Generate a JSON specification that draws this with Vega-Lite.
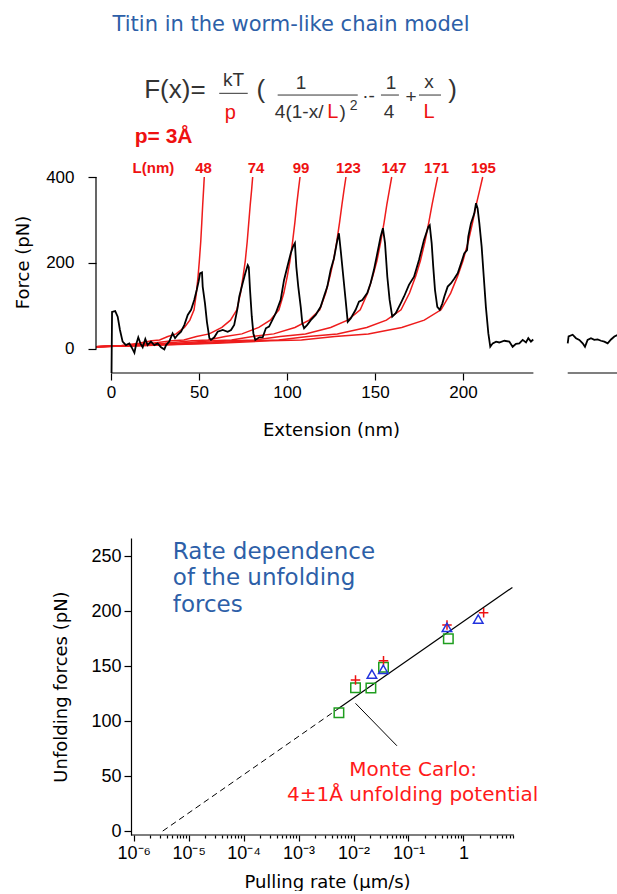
{
  "$schema": "https://vega.github.io/schema/vega-lite/v6.json",
  "background": "white",
  "padding": {"left": 13, "top": 14, "right": 0, "bottom": 0},
  "bounds": "flush",
  "spacing": 165,
  "config": {
    "view": {"stroke": null},
    "font": "Liberation Sans",
    "axis": {"grid": false, "domainColor": "#000", "tickColor": "#000", "labelColor": "#000", "titleColor": "#000", "labelFont": "Liberation Sans", "titleFont": "DejaVu Sans", "titleFontWeight": "normal", "labelFontSize": 17, "titleFontSize": 18, "tickWidth": 1.2, "domainWidth": 1.2}
  },
  "datasets": {
    "wlc": [
      {"L": 48, "x": -8.5, "y": 5}, {"L": 48, "x": 6.0, "y": 8}, {"L": 48, "x": 15.8, "y": 13}, {"L": 48, "x": 23.2, "y": 19}, {"L": 48, "x": 27.6, "y": 21}, {"L": 48, "x": 32.3, "y": 29}, {"L": 48, "x": 37.0, "y": 35}, {"L": 48, "x": 41.7, "y": 50}, {"L": 48, "x": 44.8, "y": 67}, {"L": 48, "x": 47.2, "y": 91}, {"L": 48, "x": 48.5, "y": 130}, {"L": 48, "x": 49.5, "y": 170}, {"L": 48, "x": 50.2, "y": 205}, {"L": 48, "x": 51.0, "y": 250}, {"L": 48, "x": 51.6, "y": 295}, {"L": 48, "x": 52.1, "y": 335}, {"L": 48, "x": 52.6, "y": 370}, {"L": 48, "x": 53.0, "y": 400},
      {"L": 74, "x": -8.5, "y": 5}, {"L": 74, "x": 8.0, "y": 8}, {"L": 74, "x": 23.2, "y": 13}, {"L": 74, "x": 34.6, "y": 19}, {"L": 74, "x": 41.4, "y": 21}, {"L": 74, "x": 48.6, "y": 29}, {"L": 74, "x": 55.8, "y": 35}, {"L": 74, "x": 63.0, "y": 50}, {"L": 74, "x": 67.9, "y": 67}, {"L": 74, "x": 71.5, "y": 91}, {"L": 74, "x": 73.6, "y": 130}, {"L": 74, "x": 75.1, "y": 170}, {"L": 74, "x": 76.3, "y": 205}, {"L": 74, "x": 77.4, "y": 250}, {"L": 74, "x": 78.3, "y": 295}, {"L": 74, "x": 79.1, "y": 335}, {"L": 74, "x": 79.9, "y": 370}, {"L": 74, "x": 80.5, "y": 400},
      {"L": 99, "x": -8.5, "y": 5}, {"L": 99, "x": 10.4, "y": 8}, {"L": 99, "x": 30.7, "y": 13}, {"L": 99, "x": 46.0, "y": 19}, {"L": 99, "x": 55.1, "y": 21}, {"L": 99, "x": 64.8, "y": 29}, {"L": 99, "x": 74.4, "y": 35}, {"L": 99, "x": 84.0, "y": 50}, {"L": 99, "x": 90.5, "y": 67}, {"L": 99, "x": 95.4, "y": 91}, {"L": 99, "x": 98.2, "y": 130}, {"L": 99, "x": 100.2, "y": 170}, {"L": 99, "x": 101.7, "y": 205}, {"L": 99, "x": 103.2, "y": 250}, {"L": 99, "x": 104.5, "y": 295}, {"L": 99, "x": 105.5, "y": 335}, {"L": 99, "x": 106.5, "y": 370}, {"L": 99, "x": 107.4, "y": 400},
      {"L": 123, "x": -8.5, "y": 5}, {"L": 123, "x": 13.0, "y": 8}, {"L": 123, "x": 38.3, "y": 13}, {"L": 123, "x": 57.2, "y": 19}, {"L": 123, "x": 68.5, "y": 21}, {"L": 123, "x": 80.5, "y": 29}, {"L": 123, "x": 92.5, "y": 35}, {"L": 123, "x": 104.5, "y": 50}, {"L": 123, "x": 112.6, "y": 67}, {"L": 123, "x": 118.6, "y": 91}, {"L": 123, "x": 122.0, "y": 130}, {"L": 123, "x": 124.5, "y": 170}, {"L": 123, "x": 126.4, "y": 205}, {"L": 123, "x": 128.3, "y": 250}, {"L": 123, "x": 129.9, "y": 295}, {"L": 123, "x": 131.2, "y": 335}, {"L": 123, "x": 132.4, "y": 370}, {"L": 123, "x": 133.5, "y": 400},
      {"L": 147, "x": -8.5, "y": 5}, {"L": 147, "x": 15.5, "y": 8}, {"L": 147, "x": 45.7, "y": 13}, {"L": 147, "x": 68.3, "y": 19}, {"L": 147, "x": 81.9, "y": 21}, {"L": 147, "x": 96.2, "y": 29}, {"L": 147, "x": 110.5, "y": 35}, {"L": 147, "x": 124.8, "y": 50}, {"L": 147, "x": 134.5, "y": 67}, {"L": 147, "x": 141.6, "y": 91}, {"L": 147, "x": 145.8, "y": 130}, {"L": 147, "x": 148.8, "y": 170}, {"L": 147, "x": 151.1, "y": 205}, {"L": 147, "x": 153.3, "y": 250}, {"L": 147, "x": 155.2, "y": 295}, {"L": 147, "x": 156.7, "y": 335}, {"L": 147, "x": 158.2, "y": 370}, {"L": 147, "x": 159.5, "y": 400},
      {"L": 171, "x": -8.5, "y": 5}, {"L": 171, "x": 18.1, "y": 8}, {"L": 171, "x": 53.2, "y": 13}, {"L": 171, "x": 79.5, "y": 19}, {"L": 171, "x": 95.3, "y": 21}, {"L": 171, "x": 111.9, "y": 29}, {"L": 171, "x": 128.6, "y": 35}, {"L": 171, "x": 145.3, "y": 50}, {"L": 171, "x": 156.5, "y": 67}, {"L": 171, "x": 164.8, "y": 91}, {"L": 171, "x": 169.6, "y": 130}, {"L": 171, "x": 173.2, "y": 170}, {"L": 171, "x": 175.8, "y": 205}, {"L": 171, "x": 178.4, "y": 250}, {"L": 171, "x": 180.6, "y": 295}, {"L": 171, "x": 182.4, "y": 335}, {"L": 171, "x": 184.1, "y": 370}, {"L": 171, "x": 185.6, "y": 400},
      {"L": 195, "x": -8.5, "y": 5}, {"L": 195, "x": 20.2, "y": 8}, {"L": 195, "x": 60.2, "y": 13}, {"L": 195, "x": 90.2, "y": 19}, {"L": 195, "x": 108.2, "y": 21}, {"L": 195, "x": 127.2, "y": 29}, {"L": 195, "x": 146.2, "y": 35}, {"L": 195, "x": 165.2, "y": 50}, {"L": 195, "x": 178.0, "y": 67}, {"L": 195, "x": 187.5, "y": 91}, {"L": 195, "x": 193.0, "y": 130}, {"L": 195, "x": 197.0, "y": 170}, {"L": 195, "x": 200.0, "y": 205}, {"L": 195, "x": 203.0, "y": 250}, {"L": 195, "x": 205.5, "y": 295}, {"L": 195, "x": 207.5, "y": 335}, {"L": 195, "x": 209.5, "y": 370}, {"L": 195, "x": 211.2, "y": 400}
    ],
    "trace": [
      {"seg": "a", "x": 0.3, "y": -56}, {"seg": "a", "x": 0.6, "y": 86}, {"seg": "a", "x": 2.4, "y": 88}, {"seg": "a", "x": 3.8, "y": 75}, {"seg": "a", "x": 5.1, "y": 44}, {"seg": "a", "x": 6.6, "y": 17}, {"seg": "a", "x": 8.5, "y": 9}, {"seg": "a", "x": 10.4, "y": 13}, {"seg": "a", "x": 11.7, "y": 4}, {"seg": "a", "x": 13.3, "y": -9}, {"seg": "a", "x": 14.2, "y": 9}, {"seg": "a", "x": 15.5, "y": 27}, {"seg": "a", "x": 16.7, "y": 13}, {"seg": "a", "x": 18.0, "y": 4}, {"seg": "a", "x": 19.5, "y": 23}, {"seg": "a", "x": 20.8, "y": 9}, {"seg": "a", "x": 22.7, "y": 17}, {"seg": "a", "x": 24.6, "y": 9}, {"seg": "a", "x": 26.5, "y": 13}, {"seg": "a", "x": 28.4, "y": 4}, {"seg": "a", "x": 30.3, "y": -1}, {"seg": "a", "x": 31.3, "y": 9}, {"seg": "a", "x": 33.1, "y": 17}, {"seg": "a", "x": 35.0, "y": 36}, {"seg": "a", "x": 36.4, "y": 25}, {"seg": "a", "x": 37.9, "y": 33}, {"seg": "a", "x": 39.8, "y": 40}, {"seg": "a", "x": 41.7, "y": 56}, {"seg": "a", "x": 43.6, "y": 79}, {"seg": "a", "x": 45.5, "y": 91}, {"seg": "a", "x": 47.3, "y": 114}, {"seg": "a", "x": 48.7, "y": 137}, {"seg": "a", "x": 49.8, "y": 157}, {"seg": "a", "x": 50.6, "y": 176}, {"seg": "a", "x": 51.7, "y": 178}, {"seg": "a", "x": 52.1, "y": 145}, {"seg": "a", "x": 53.4, "y": 106}, {"seg": "a", "x": 54.5, "y": 63}, {"seg": "a", "x": 55.9, "y": 25}, {"seg": "a", "x": 56.8, "y": 21}, {"seg": "a", "x": 58.7, "y": 27}, {"seg": "a", "x": 60.6, "y": 40}, {"seg": "a", "x": 63.5, "y": 44}, {"seg": "a", "x": 66.3, "y": 40}, {"seg": "a", "x": 68.2, "y": 44}, {"seg": "a", "x": 70.0, "y": 56}, {"seg": "a", "x": 71.9, "y": 95}, {"seg": "a", "x": 72.9, "y": 122}, {"seg": "a", "x": 74.8, "y": 153}, {"seg": "a", "x": 76.3, "y": 176}, {"seg": "a", "x": 77.7, "y": 195}, {"seg": "a", "x": 78.3, "y": 190}, {"seg": "a", "x": 79.0, "y": 137}, {"seg": "a", "x": 80.0, "y": 75}, {"seg": "a", "x": 80.9, "y": 36}, {"seg": "a", "x": 82.0, "y": 21}, {"seg": "a", "x": 84.3, "y": 27}, {"seg": "a", "x": 86.2, "y": 27}, {"seg": "a", "x": 88.0, "y": 48}, {"seg": "a", "x": 89.8, "y": 52}, {"seg": "a", "x": 91.5, "y": 66}, {"seg": "a", "x": 93.6, "y": 83}, {"seg": "a", "x": 96.4, "y": 114}, {"seg": "a", "x": 98.3, "y": 160}, {"seg": "a", "x": 100.2, "y": 191}, {"seg": "a", "x": 102.1, "y": 222}, {"seg": "a", "x": 103.4, "y": 238}, {"seg": "a", "x": 104.5, "y": 246}, {"seg": "a", "x": 105.3, "y": 191}, {"seg": "a", "x": 106.4, "y": 145}, {"seg": "a", "x": 107.8, "y": 98}, {"seg": "a", "x": 108.7, "y": 60}, {"seg": "a", "x": 109.7, "y": 48}, {"seg": "a", "x": 111.5, "y": 56}, {"seg": "a", "x": 113.5, "y": 67}, {"seg": "a", "x": 116.3, "y": 79}, {"seg": "a", "x": 119.1, "y": 98}, {"seg": "a", "x": 121.0, "y": 122}, {"seg": "a", "x": 122.9, "y": 145}, {"seg": "a", "x": 124.8, "y": 184}, {"seg": "a", "x": 126.7, "y": 211}, {"seg": "a", "x": 128.6, "y": 253}, {"seg": "a", "x": 129.5, "y": 269}, {"seg": "a", "x": 130.5, "y": 230}, {"seg": "a", "x": 131.8, "y": 176}, {"seg": "a", "x": 133.3, "y": 114}, {"seg": "a", "x": 134.5, "y": 63}, {"seg": "a", "x": 136.2, "y": 71}, {"seg": "a", "x": 139.0, "y": 91}, {"seg": "a", "x": 140.9, "y": 110}, {"seg": "a", "x": 142.8, "y": 114}, {"seg": "a", "x": 145.6, "y": 130}, {"seg": "a", "x": 147.5, "y": 153}, {"seg": "a", "x": 149.4, "y": 184}, {"seg": "a", "x": 151.3, "y": 222}, {"seg": "a", "x": 153.2, "y": 261}, {"seg": "a", "x": 154.5, "y": 281}, {"seg": "a", "x": 155.7, "y": 246}, {"seg": "a", "x": 157.0, "y": 168}, {"seg": "a", "x": 158.3, "y": 114}, {"seg": "a", "x": 159.8, "y": 75}, {"seg": "a", "x": 161.8, "y": 83}, {"seg": "a", "x": 164.6, "y": 106}, {"seg": "a", "x": 166.5, "y": 122}, {"seg": "a", "x": 169.3, "y": 149}, {"seg": "a", "x": 172.2, "y": 168}, {"seg": "a", "x": 175.0, "y": 207}, {"seg": "a", "x": 177.8, "y": 253}, {"seg": "a", "x": 180.3, "y": 284}, {"seg": "a", "x": 181.1, "y": 288}, {"seg": "a", "x": 182.2, "y": 246}, {"seg": "a", "x": 183.1, "y": 191}, {"seg": "a", "x": 184.1, "y": 137}, {"seg": "a", "x": 185.4, "y": 98}, {"seg": "a", "x": 186.8, "y": 91}, {"seg": "a", "x": 188.3, "y": 106}, {"seg": "a", "x": 189.4, "y": 122}, {"seg": "a", "x": 191.3, "y": 145}, {"seg": "a", "x": 193.2, "y": 153}, {"seg": "a", "x": 195.1, "y": 164}, {"seg": "a", "x": 197.0, "y": 176}, {"seg": "a", "x": 198.9, "y": 199}, {"seg": "a", "x": 200.7, "y": 222}, {"seg": "a", "x": 202.3, "y": 230}, {"seg": "a", "x": 203.0, "y": 261}, {"seg": "a", "x": 204.5, "y": 292}, {"seg": "a", "x": 205.5, "y": 304}, {"seg": "a", "x": 206.4, "y": 315}, {"seg": "a", "x": 207.4, "y": 339}, {"seg": "a", "x": 208.3, "y": 327}, {"seg": "a", "x": 209.3, "y": 292}, {"seg": "a", "x": 210.6, "y": 238}, {"seg": "a", "x": 211.8, "y": 168}, {"seg": "a", "x": 213.0, "y": 98}, {"seg": "a", "x": 214.4, "y": 36}, {"seg": "a", "x": 215.5, "y": 5}, {"seg": "a", "x": 216.9, "y": 13}, {"seg": "a", "x": 218.8, "y": 17}, {"seg": "a", "x": 220.6, "y": 15}, {"seg": "a", "x": 223.5, "y": 19}, {"seg": "a", "x": 226.3, "y": 17}, {"seg": "a", "x": 228.2, "y": 5}, {"seg": "a", "x": 230.1, "y": 12}, {"seg": "a", "x": 232.0, "y": 13}, {"seg": "a", "x": 233.9, "y": 21}, {"seg": "a", "x": 235.8, "y": 15}, {"seg": "a", "x": 237.1, "y": 25}, {"seg": "a", "x": 238.6, "y": 17}, {"seg": "a", "x": 239.9, "y": 22},
      {"seg": "b", "x": 259.5, "y": 13}, {"seg": "b", "x": 260.0, "y": 29}, {"seg": "b", "x": 262.3, "y": 33}, {"seg": "b", "x": 264.2, "y": 25}, {"seg": "b", "x": 266.1, "y": 21}, {"seg": "b", "x": 268.0, "y": 13}, {"seg": "b", "x": 269.3, "y": 5}, {"seg": "b", "x": 270.8, "y": 21}, {"seg": "b", "x": 272.7, "y": 25}, {"seg": "b", "x": 274.6, "y": 21}, {"seg": "b", "x": 276.5, "y": 22}, {"seg": "b", "x": 278.4, "y": 19}, {"seg": "b", "x": 280.3, "y": 17}, {"seg": "b", "x": 282.2, "y": 13}, {"seg": "b", "x": 284.1, "y": 22}, {"seg": "b", "x": 286.0, "y": 29}, {"seg": "b", "x": 288.0, "y": 33}
    ],
    "topAxes": [
      {"x": 0, "x2": 240, "y": -56, "y2": -56},
      {"x": 259.5, "x2": 288.07, "y": -56, "y2": -56},
      {"x": -8.52, "x2": -8.52, "y": 0, "y2": 400}
    ],
    "topTitle": [{"t": "Titin in the worm-like chain model", "x": 102.3, "y": 753.5}],
    "pLabel": [{"t": "p= 3Å", "x": 29.9, "y": 493.7}],
    "lLabels": [
      {"t": "L(nm)", "x": 24.1, "y": 421}, {"t": "48", "x": 52.6, "y": 421}, {"t": "74", "x": 82.4, "y": 421}, {"t": "99", "x": 108, "y": 421},
      {"t": "123", "x": 134.9, "y": 421}, {"t": "147", "x": 160.8, "y": 421}, {"t": "171", "x": 185, "y": 421}, {"t": "195", "x": 211.6, "y": 421}
    ],
    "fBig": [{"t": "F(x)=", "x": 36.3, "y": 602.3}, {"t": "(", "x": 85.2, "y": 602.3}, {"t": ")", "x": 194.1, "y": 602.3}],
    "fSmall": [
      {"t": "kT", "x": 69.6, "y": 625.6}, {"t": "1", "x": 108, "y": 617.9}, {"t": "4(1-x/", "x": 106.9, "y": 551.2}, {"t": ")", "x": 131.6, "y": 551.2},
      {"t": "·-", "x": 146.3, "y": 588.4}, {"t": "1", "x": 159.1, "y": 618.6}, {"t": "4", "x": 158, "y": 551.2}, {"t": "+", "x": 170.5, "y": 586}, {"t": "x", "x": 180.7, "y": 620.9}
    ],
    "fSup": [{"t": "2", "x": 137.8, "y": 565}],
    "fRed": [{"t": "p", "x": 67.8, "y": 548.8}, {"t": "L", "x": 126, "y": 551.2}, {"t": "L", "x": 180.7, "y": 551.2}],
    "fLines": [
      {"x": 61.5, "x2": 77.7, "y": 594.7, "y2": 594.7}, {"x": 94.7, "x2": 140.2, "y": 590.7, "y2": 590.7},
      {"x": 153.4, "x2": 163.6, "y": 590.7, "y2": 590.7}, {"x": 175, "x2": 187.5, "y": 590.7, "y2": 590.7}
    ],
    "fitDash": [{"x": 3.37e-6, "y": 0}, {"x": 0.005, "y": 110.4}],
    "fitSolid": [{"x": 0.005, "y": 110.4}, {"x": 7.78, "y": 221.5}],
    "annot": [{"x": 0.01086, "x2": 0.0616, "y": 116.1, "y2": 77.5}],
    "botAxis": [{"x": 8.9e-7, "x2": 8.32, "y": -3.6, "y2": -3.6}],
    "points": [
      {"s": "sq", "x": 0.00542, "y": 107.5}, {"s": "sq", "x": 0.01086, "y": 130.3}, {"s": "sq", "x": 0.0207, "y": 130}, {"s": "sq", "x": 0.0351, "y": 148.8}, {"s": "sq", "x": 0.531, "y": 174.8},
      {"s": "plus", "x": 0.01086, "y": 137.3}, {"s": "plus", "x": 0.0351, "y": 154.8}, {"s": "plus", "x": 0.502, "y": 187.3}, {"s": "plus", "x": 2.33, "y": 198.5},
      {"s": "tri", "x": 0.0216, "y": 142.7}, {"s": "tri", "x": 0.0348, "y": 147}, {"s": "tri", "x": 0.502, "y": 185.2}, {"s": "tri", "x": 1.86, "y": 192.7}
    ],
    "blueText": [{"t": "Rate dependence", "x": 5.14e-6, "y": 253.9}, {"t": "of the unfolding", "x": 5.14e-6, "y": 229.7}, {"t": "forces", "x": 5.14e-6, "y": 205.5}],
    "redText": [{"t": "Monte Carlo:", "x": 0.1213, "y": 55.5}, {"t": "4±1Å unfolding potential", "x": 0.1193, "y": 32.7}]
  },
  "vconcat": [
    {
      "width": 522,
      "height": 196,
      "layer": [
        {
          "data": {"name": "wlc"},
          "mark": {"type": "line", "color": "#ee1c1c", "strokeWidth": 1.5},
          "encoding": {
            "x": {"field": "x", "type": "quantitative", "scale": {"domain": [-8.52, 288.07], "nice": false, "zero": false},
              "axis": {"domain": false, "values": [0, 50, 100, 150, 200], "tickSize": 7, "labelPadding": 4, "title": "Extension (nm)", "titleX": 235, "titleY": 57, "titleBaseline": "middle", "labelFlush": false}},
            "y": {"field": "y", "type": "quantitative", "scale": {"domain": [-56, 400], "nice": false, "zero": false},
              "axis": {"domain": false, "values": [0, 200, 400], "tickSize": 8, "labelPadding": 14, "title": "Force (pN)", "titleX": -73, "titleY": 85, "titleBaseline": "middle", "titleAngle": -90}},
            "detail": {"field": "L", "type": "nominal"}
          }
        },
        {
          "data": {"name": "trace"},
          "mark": {"type": "line", "color": "#000", "strokeWidth": 1.8},
          "encoding": {"x": {"field": "x", "type": "quantitative"}, "y": {"field": "y", "type": "quantitative"}, "detail": {"field": "seg", "type": "nominal"}}
        },
        {
          "data": {"name": "topAxes"},
          "mark": {"type": "rule", "color": "#000", "strokeWidth": 1.2},
          "encoding": {"x": {"field": "x", "type": "quantitative"}, "x2": {"field": "x2"}, "y": {"field": "y", "type": "quantitative"}, "y2": {"field": "y2"}}
        },
        {
          "data": {"name": "fLines"},
          "mark": {"type": "rule", "color": "#333", "strokeWidth": 1},
          "encoding": {"x": {"field": "x", "type": "quantitative"}, "x2": {"field": "x2"}, "y": {"field": "y", "type": "quantitative"}, "y2": {"field": "y2"}}
        },
        {
          "data": {"name": "topTitle"},
          "mark": {"type": "text", "color": "#2d5fa8", "font": "DejaVu Sans", "fontSize": 21, "align": "center", "baseline": "middle"},
          "encoding": {"x": {"field": "x", "type": "quantitative"}, "y": {"field": "y", "type": "quantitative"}, "text": {"field": "t"}}
        },
        {
          "data": {"name": "pLabel"},
          "mark": {"type": "text", "color": "#ee1111", "font": "Liberation Sans", "fontWeight": "bold", "fontSize": 21, "align": "center", "baseline": "middle"},
          "encoding": {"x": {"field": "x", "type": "quantitative"}, "y": {"field": "y", "type": "quantitative"}, "text": {"field": "t"}}
        },
        {
          "data": {"name": "lLabels"},
          "mark": {"type": "text", "color": "#ee1111", "font": "Liberation Sans", "fontWeight": "bold", "fontSize": 15, "align": "center", "baseline": "middle"},
          "encoding": {"x": {"field": "x", "type": "quantitative"}, "y": {"field": "y", "type": "quantitative"}, "text": {"field": "t"}}
        },
        {
          "data": {"name": "fBig"},
          "mark": {"type": "text", "color": "#333", "font": "Liberation Sans", "fontSize": 26, "align": "center", "baseline": "middle"},
          "encoding": {"x": {"field": "x", "type": "quantitative"}, "y": {"field": "y", "type": "quantitative"}, "text": {"field": "t"}}
        },
        {
          "data": {"name": "fSmall"},
          "mark": {"type": "text", "color": "#333", "font": "Liberation Sans", "fontSize": 19, "align": "center", "baseline": "middle"},
          "encoding": {"x": {"field": "x", "type": "quantitative"}, "y": {"field": "y", "type": "quantitative"}, "text": {"field": "t"}}
        },
        {
          "data": {"name": "fSup"},
          "mark": {"type": "text", "color": "#333", "font": "Liberation Sans", "fontSize": 14, "align": "center", "baseline": "middle"},
          "encoding": {"x": {"field": "x", "type": "quantitative"}, "y": {"field": "y", "type": "quantitative"}, "text": {"field": "t"}}
        },
        {
          "data": {"name": "fRed"},
          "mark": {"type": "text", "color": "#ee1111", "font": "Liberation Sans", "fontSize": 20, "align": "center", "baseline": "middle"},
          "encoding": {"x": {"field": "x", "type": "quantitative"}, "y": {"field": "y", "type": "quantitative"}, "text": {"field": "t"}}
        }
      ]
    },
    {
      "width": 418,
      "height": 297,
      "layer": [
        {
          "data": {"name": "fitDash"},
          "mark": {"type": "line", "color": "#000", "strokeWidth": 1, "strokeDash": [6, 4]},
          "encoding": {
            "x": {"field": "x", "type": "quantitative", "scale": {"type": "log", "domain": [2.056e-7, 8.32], "nice": false},
              "axis": {"domain": false, "labelOverlap": false, "labelFlush": false, "labelBound": false, "labelFontSize": 18, "labelPadding": 3,
                "values": [1e-6, 2e-6, 3e-6, 4e-6, 5e-6, 6e-6, 7e-6, 8e-6, 9e-6, 1e-5, 2e-5, 3e-5, 4e-5, 5e-5, 6e-5, 7e-5, 8e-5, 9e-5, 1e-4, 2e-4, 3e-4, 4e-4, 5e-4, 6e-4, 7e-4, 8e-4, 9e-4, 0.001, 0.002, 0.003, 0.004, 0.005, 0.006, 0.007, 0.008, 0.009, 0.01, 0.02, 0.03, 0.04, 0.05, 0.06, 0.07, 0.08, 0.09, 0.1, 0.2, 0.3, 0.4, 0.5, 0.6, 0.7, 0.8, 0.9, 1, 2, 3, 4, 5, 6, 7, 8],
                "labelExpr": "abs(log(datum.value)/LN10 - round(log(datum.value)/LN10)) > 0.01 ? '' : (round(log(datum.value)/LN10) == 0 ? '1' : '10' + ['⁻⁶','⁻⁵','⁻⁴','⁻³','⁻²','⁻¹'][round(log(datum.value)/LN10) + 6])",
                "tickSize": {"condition": {"test": "abs(log(datum.value)/LN10 - round(log(datum.value)/LN10)) > 0.01", "value": 3}, "value": 6},
                "title": "Pulling rate (µm/s)", "titleX": 231, "titleY": 47, "titleBaseline": "middle"}},
            "y": {"field": "y", "type": "quantitative", "scale": {"domain": [-3.6, 266.4], "nice": false, "zero": false},
              "axis": {"offset": -35, "values": [0, 50, 100, 150, 200, 250], "tickSize": 7, "labelPadding": 3, "labelFontSize": 18, "title": "Unfolding forces (pN)", "titleX": -70, "titleBaseline": "middle", "titleAngle": -90}}
          }
        },
        {
          "data": {"name": "fitSolid"},
          "mark": {"type": "line", "color": "#000", "strokeWidth": 1.2},
          "encoding": {"x": {"field": "x", "type": "quantitative"}, "y": {"field": "y", "type": "quantitative"}}
        },
        {
          "data": {"name": "annot"},
          "mark": {"type": "rule", "color": "#000", "strokeWidth": 1},
          "encoding": {"x": {"field": "x", "type": "quantitative"}, "x2": {"field": "x2"}, "y": {"field": "y", "type": "quantitative"}, "y2": {"field": "y2"}}
        },
        {
          "data": {"name": "botAxis"},
          "mark": {"type": "rule", "color": "#000", "strokeWidth": 1.2},
          "encoding": {"x": {"field": "x", "type": "quantitative"}, "x2": {"field": "x2"}, "y": {"field": "y", "type": "quantitative"}, "y2": {"field": "y2"}}
        },
        {
          "data": {"name": "points"},
          "mark": {"type": "point", "filled": false, "strokeWidth": 1.5, "size": 90, "opacity": 1},
          "encoding": {
            "x": {"field": "x", "type": "quantitative"},
            "y": {"field": "y", "type": "quantitative"},
            "color": {"field": "s", "type": "nominal", "scale": {"domain": ["sq", "plus", "tri"], "range": ["#1f9e1f", "#ee1111", "#2233dd"]}, "legend": null},
            "shape": {"field": "s", "type": "nominal", "scale": {"domain": ["sq", "plus", "tri"], "range": ["square", "M-1,0H1M0,-1V1", "triangle-up"]}, "legend": null}
          }
        },
        {
          "data": {"name": "blueText"},
          "mark": {"type": "text", "color": "#2d5fa8", "font": "DejaVu Sans", "fontSize": 23, "align": "left", "baseline": "middle"},
          "encoding": {"x": {"field": "x", "type": "quantitative"}, "y": {"field": "y", "type": "quantitative"}, "text": {"field": "t"}}
        },
        {
          "data": {"name": "redText"},
          "mark": {"type": "text", "color": "#ff1a1a", "font": "DejaVu Sans", "fontSize": 20, "align": "center", "baseline": "middle"},
          "encoding": {"x": {"field": "x", "type": "quantitative"}, "y": {"field": "y", "type": "quantitative"}, "text": {"field": "t"}}
        }
      ]
    }
  ]
}
